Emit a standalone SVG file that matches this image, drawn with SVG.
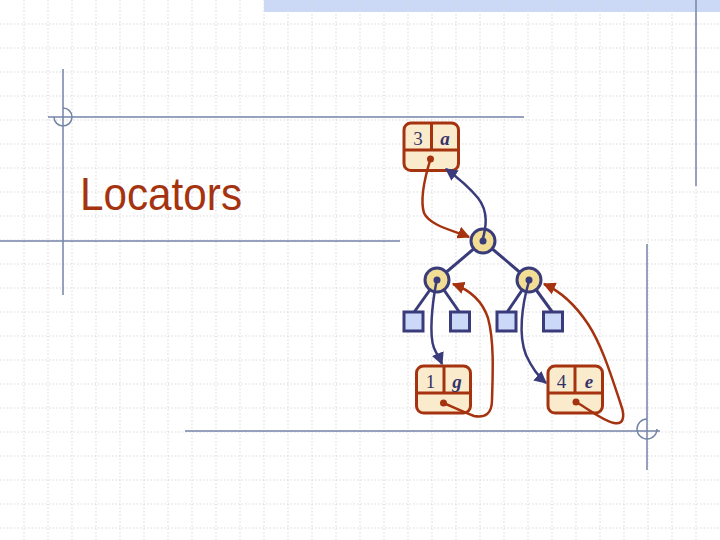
<svg xmlns="http://www.w3.org/2000/svg" width="720" height="540" viewBox="0 0 720 540">
<defs>
<style>
.grid line{stroke:#d9d9d9;stroke-width:1;stroke-dasharray:1.5 2}
.deco{stroke:#7485a8;stroke-width:1.5;fill:none}
.item{fill:#fbebcd;stroke:#a5330f;stroke-width:3}
.div{stroke:#a5330f;stroke-width:3}
.num{font-family:"Liberation Serif",serif;font-size:19px;fill:#33336a;text-anchor:middle}
.key{font-family:"Liberation Serif",serif;font-size:19px;font-weight:bold;font-style:italic;fill:#33336a;text-anchor:middle}
.pos{fill:#f1dd93;stroke:#3a3b7a;stroke-width:3}
.leaf{fill:#ccd8f7;stroke:#3a3b7a;stroke-width:3}
.edge{stroke:#3a3b7a;stroke-width:3}
.blue{fill:none;stroke:#3a3b7a;stroke-width:2.5}
.red{fill:none;stroke:#a5330f;stroke-width:2.5}
.dotr{fill:#a5330f}
.dotb{fill:#3a3b7a}
</style>
<marker id="ab" viewBox="0 0 10 10" refX="9" refY="5" markerWidth="5" markerHeight="5" orient="auto" markerUnits="strokeWidth"><path d="M0,0 L10,5 L0,10 z" fill="#3a3b7a"/></marker>
<marker id="ar" viewBox="0 0 10 10" refX="9" refY="5" markerWidth="5" markerHeight="5" orient="auto" markerUnits="strokeWidth"><path d="M0,0 L10,5 L0,10 z" fill="#a5330f"/></marker>
</defs>
<rect width="720" height="540" fill="#ffffff"/>
<rect x="264" y="0" width="456" height="12" fill="#cbd9f7"/>
<g class="grid">
<line x1="24" y1="0" x2="24" y2="540"/><line x1="48" y1="0" x2="48" y2="540"/><line x1="72" y1="0" x2="72" y2="540"/><line x1="96" y1="0" x2="96" y2="540"/><line x1="120" y1="0" x2="120" y2="540"/><line x1="144" y1="0" x2="144" y2="540"/><line x1="168" y1="0" x2="168" y2="540"/><line x1="192" y1="0" x2="192" y2="540"/><line x1="216" y1="0" x2="216" y2="540"/><line x1="240" y1="0" x2="240" y2="540"/><line x1="264" y1="0" x2="264" y2="540"/><line x1="288" y1="0" x2="288" y2="540"/><line x1="312" y1="0" x2="312" y2="540"/><line x1="336" y1="0" x2="336" y2="540"/><line x1="360" y1="0" x2="360" y2="540"/><line x1="384" y1="0" x2="384" y2="540"/><line x1="408" y1="0" x2="408" y2="540"/><line x1="432" y1="0" x2="432" y2="540"/><line x1="456" y1="0" x2="456" y2="540"/><line x1="480" y1="0" x2="480" y2="540"/><line x1="504" y1="0" x2="504" y2="540"/><line x1="528" y1="0" x2="528" y2="540"/><line x1="552" y1="0" x2="552" y2="540"/><line x1="576" y1="0" x2="576" y2="540"/><line x1="600" y1="0" x2="600" y2="540"/><line x1="624" y1="0" x2="624" y2="540"/><line x1="648" y1="0" x2="648" y2="540"/><line x1="672" y1="0" x2="672" y2="540"/><line x1="696" y1="0" x2="696" y2="540"/>
<line x1="0" y1="24" x2="720" y2="24"/><line x1="0" y1="48" x2="720" y2="48"/><line x1="0" y1="72" x2="720" y2="72"/><line x1="0" y1="96" x2="720" y2="96"/><line x1="0" y1="120" x2="720" y2="120"/><line x1="0" y1="144" x2="720" y2="144"/><line x1="0" y1="168" x2="720" y2="168"/><line x1="0" y1="192" x2="720" y2="192"/><line x1="0" y1="216" x2="720" y2="216"/><line x1="0" y1="240" x2="720" y2="240"/><line x1="0" y1="264" x2="720" y2="264"/><line x1="0" y1="288" x2="720" y2="288"/><line x1="0" y1="312" x2="720" y2="312"/><line x1="0" y1="336" x2="720" y2="336"/><line x1="0" y1="360" x2="720" y2="360"/><line x1="0" y1="384" x2="720" y2="384"/><line x1="0" y1="408" x2="720" y2="408"/><line x1="0" y1="432" x2="720" y2="432"/><line x1="0" y1="456" x2="720" y2="456"/><line x1="0" y1="480" x2="720" y2="480"/><line x1="0" y1="504" x2="720" y2="504"/><line x1="0" y1="528" x2="720" y2="528"/>
</g>
<g class="deco">
<line x1="696" y1="0" x2="696" y2="186"/>
<line x1="63" y1="69" x2="63" y2="295"/>
<line x1="48" y1="117" x2="524" y2="117"/>
<line x1="0" y1="241" x2="400" y2="241"/>
<path d="M54,117 A9,9 0 1 0 63,108"/>
<line x1="185" y1="431" x2="660" y2="431"/>
<line x1="647" y1="244" x2="647" y2="470"/>
<path d="M657,429 A10,10 0 1 1 647,419"/>
</g>
<text x="80" y="210" font-family="Liberation Sans, Arial, sans-serif" font-size="46" fill="#a5330f" textLength="162" lengthAdjust="spacingAndGlyphs">Locators</text>
<g id="connectors">
<line class="edge" x1="483" y1="241" x2="437" y2="280"/>
<line class="edge" x1="483" y1="241" x2="529" y2="280"/>
<line class="edge" x1="437" y1="280" x2="413.5" y2="313"/>
<line class="edge" x1="437" y1="280" x2="460" y2="313"/>
<line class="edge" x1="529" y1="280" x2="506.5" y2="313"/>
<line class="edge" x1="529" y1="280" x2="553" y2="313"/>
</g>
<g id="node-3a">
<rect class="item" x="404" y="123" width="54.5" height="47.5" rx="7"/>
<line class="div" x1="404" y1="150" x2="458.5" y2="150"/>
<line class="div" x1="431.5" y1="123" x2="431.5" y2="150"/>
<text class="num" x="418" y="145">3</text>
<text class="key" x="445" y="145">a</text>
</g>
<g id="node-1g">
<rect class="item" x="416.5" y="366" width="54" height="47" rx="7"/>
<line class="div" x1="416.5" y1="393" x2="470.5" y2="393"/>
<line class="div" x1="444" y1="366" x2="444" y2="393"/>
<text class="num" x="430.5" y="388">1</text>
<text class="key" x="457" y="388">g</text>
</g>
<g id="node-4e">
<rect class="item" x="548" y="366" width="54.5" height="47" rx="7"/>
<line class="div" x1="548" y1="393" x2="602.5" y2="393"/>
<line class="div" x1="575" y1="366" x2="575" y2="393"/>
<text class="num" x="561.5" y="388">4</text>
<text class="key" x="589" y="388">e</text>
</g>
<g id="leaf-1"><rect class="leaf" x="404" y="312" width="19" height="19"/></g>
<g id="leaf-2"><rect class="leaf" x="450.5" y="312" width="19" height="19"/></g>
<g id="leaf-3"><rect class="leaf" x="497" y="312" width="19" height="19"/></g>
<g id="leaf-4"><rect class="leaf" x="543.5" y="312" width="19" height="19"/></g>
<g id="pos-root"><circle class="pos" cx="483" cy="241" r="12"/></g>
<g id="pos-left"><circle class="pos" cx="437" cy="280" r="12"/></g>
<g id="pos-right"><circle class="pos" cx="529" cy="280" r="12"/></g>
<g id="locator-links">
<path class="red" d="M430.5,159 C424,180 420,200 424,213 C430,226 455,231 469,237" marker-end="url(#ar)"/>
<path class="blue" d="M482.5,240 C486,228 489,212 478,198 C468,186 457,177 446,169" marker-end="url(#ab)"/>
<path class="blue" d="M436.5,281 C432,305 429,335 434,348 C437,355 440,359 442,364" marker-end="url(#ab)"/>
<path class="blue" d="M529,281 C522,305 518,335 526,355 C532,368 540,378 546,383" marker-end="url(#ab)"/>
<path class="red" d="M443.5,403 C455,408 466,413 474,416 C485,418 492,414 492,400 C493,370 494,340 488,318 C482,300 470,290 453,284" marker-end="url(#ar)"/>
<path class="red" d="M576,402 C590,410 603,421 614,423 C624,425 625,416 621,405 C612,378 602,345 588,324 C576,306 562,292 544,284" marker-end="url(#ar)"/>
</g>
<g id="dots">
<circle class="dotr" cx="430.5" cy="159" r="3.5"/>
<circle class="dotr" cx="443.5" cy="403" r="3.5"/>
<circle class="dotr" cx="576" cy="402" r="3.5"/>
<circle class="dotb" cx="483" cy="241" r="3.5"/>
<circle class="dotb" cx="437" cy="280" r="3.5"/>
<circle class="dotb" cx="529" cy="280" r="3.5"/>
</g>
</svg>
